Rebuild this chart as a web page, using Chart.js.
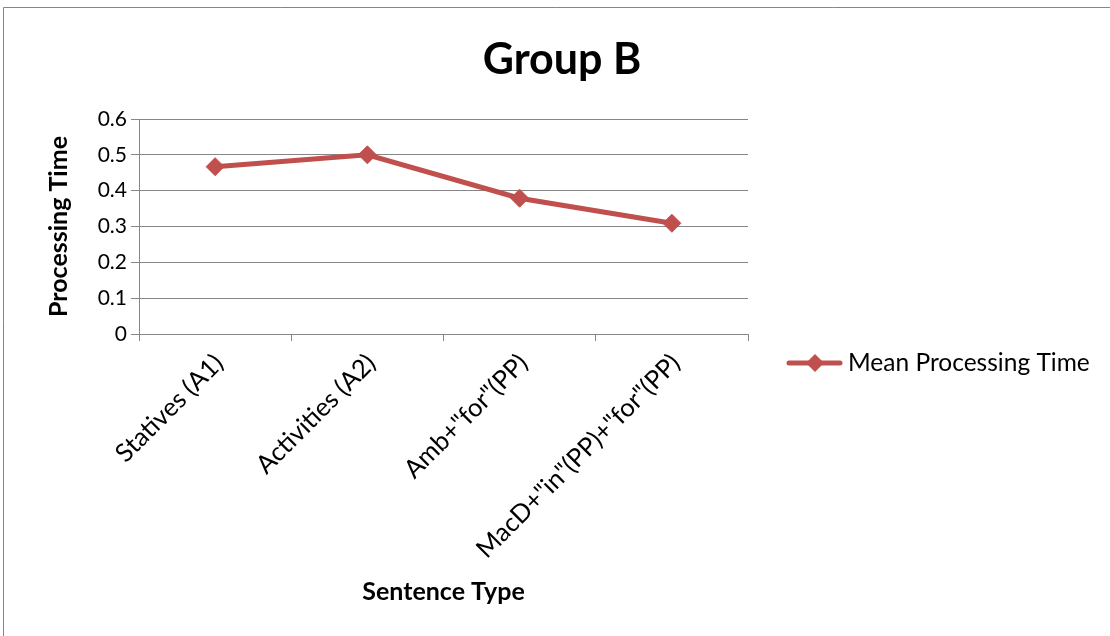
<!DOCTYPE html>
<html>
<head>
<meta charset="utf-8">
<script src="https://cdn.jsdelivr.net/npm/chart.js@4/dist/chart.umd.min.js"></script>
<style>
  html, body { margin: 0; padding: 0; background: #ffffff; }
  #wrap { width: 1110px; height: 636px; position: relative; }
</style>
</head>
<body>
<div id="wrap"><canvas id="c" width="1110" height="636"></canvas></div>
<script>
// Sentence types on the category axis
const categories = ['Statives (A1)', 'Activities (A2)', 'Amb+"for"(PP)', 'MacD+"in"(PP)+"for"(PP)'];
// Mean processing time per sentence type
const meanProcessingTime = [0.467, 0.5, 0.379, 0.309];
// Value axis ticks
const yTicks = [0, 0.1, 0.2, 0.3, 0.4, 0.5, 0.6];

const chartTitle = 'Group B';
const seriesName = 'Mean Processing Time';
const xTitle = 'Sentence Type';
const yTitle = 'Processing Time';

const FONT = 'Lato, "Open Sans", sans-serif';
const RED = '#C0504D';
const GRID = '#868686';

// Title, legend and outer frame drawn on top of the chart
const decorations = {
  id: 'decorations',
  afterDraw(chart) {
    const ctx = chart.ctx;
    ctx.save();
    // outer frame
    ctx.strokeStyle = GRID;
    ctx.lineWidth = 1;
    ctx.beginPath();
    ctx.moveTo(3.5, 636);
    ctx.lineTo(3.5, 7.5);
    ctx.lineTo(1110, 7.5);
    ctx.stroke();

    // title
    ctx.fillStyle = '#000';
    ctx.font = 'bold 43px ' + FONT;
    ctx.textAlign = 'center';
    ctx.textBaseline = 'middle';
    ctx.fillText(chartTitle, 562, 60);

    // legend entry
    const ly = 363;
    ctx.strokeStyle = RED;
    ctx.lineWidth = 5;
    ctx.lineCap = 'round';
    ctx.beginPath();
    ctx.moveTo(789, ly);
    ctx.lineTo(840, ly);
    ctx.stroke();
    ctx.fillStyle = RED;
    ctx.beginPath();
    ctx.moveTo(815 - 9, ly);
    ctx.lineTo(815, ly - 9);
    ctx.lineTo(815 + 9, ly);
    ctx.lineTo(815, ly + 9);
    ctx.closePath();
    ctx.fill();
    ctx.fillStyle = '#000';
    ctx.font = '24.5px ' + FONT;
    ctx.textAlign = 'left';
    ctx.fillText(seriesName, 848, ly);
    ctx.restore();
  }
};

new Chart(document.getElementById('c'), {
  type: 'line',
  data: {
    labels: categories,
    datasets: [{
      label: seriesName,
      data: meanProcessingTime,
      borderColor: RED,
      backgroundColor: RED,
      borderWidth: 5,
      pointStyle: 'rectRot',
      pointRadius: 9,
      pointBorderWidth: 1,
      pointBackgroundColor: RED,
      pointBorderColor: RED,
      tension: 0,
      fill: false
    }]
  },
  options: {
    responsive: false,
    animation: false,
    events: [],
    layout: { padding: { left: 0, top: 119, right: 362, bottom: 0 } },
    plugins: {
      legend: { display: false },
      title: { display: false },
      tooltip: { enabled: false }
    },
    scales: {
      x: {
        type: 'category',
        offset: true,
        grid: { offset: true, drawOnChartArea: false, color: GRID, tickLength: 7 },
        border: { color: GRID, width: 1 },
        ticks: {
          minRotation: 45, maxRotation: 45, autoSkip: false,
          color: '#000', font: { family: FONT, size: 25.5 }, padding: 7, labelOffset: 4
        },
        title: {
          display: true, text: xTitle, color: '#000',
          font: { family: FONT, size: 25, weight: 'bold' },
          padding: { top: 0, bottom: 29 }
        },
        afterFit(scale) {
          scale.height = 302;
          scale.paddingLeft = 0; scale.paddingRight = 0;
        }
      },
      y: {
        min: 0, max: 0.6,
        afterBuildTicks(scale) { scale.ticks = yTicks.map(v => ({ value: v })); },
        grid: { color: GRID, tickLength: 8 },
        border: { color: GRID, width: 1 },
        ticks: {
          color: '#000', font: { family: FONT, size: 21 }, padding: 4,
          callback: v => String(v)
        },
        title: {
          display: true, text: yTitle, color: '#000',
          font: { family: FONT, size: 25, weight: 'bold' },
          padding: { top: 44, bottom: 0 }
        },
        afterFit(scale) {
          scale.width = 139;
          scale.paddingTop = 0; scale.paddingBottom = 0;
        }
      }
    }
  },
  plugins: [decorations]
});
</script>
</body>
</html>
